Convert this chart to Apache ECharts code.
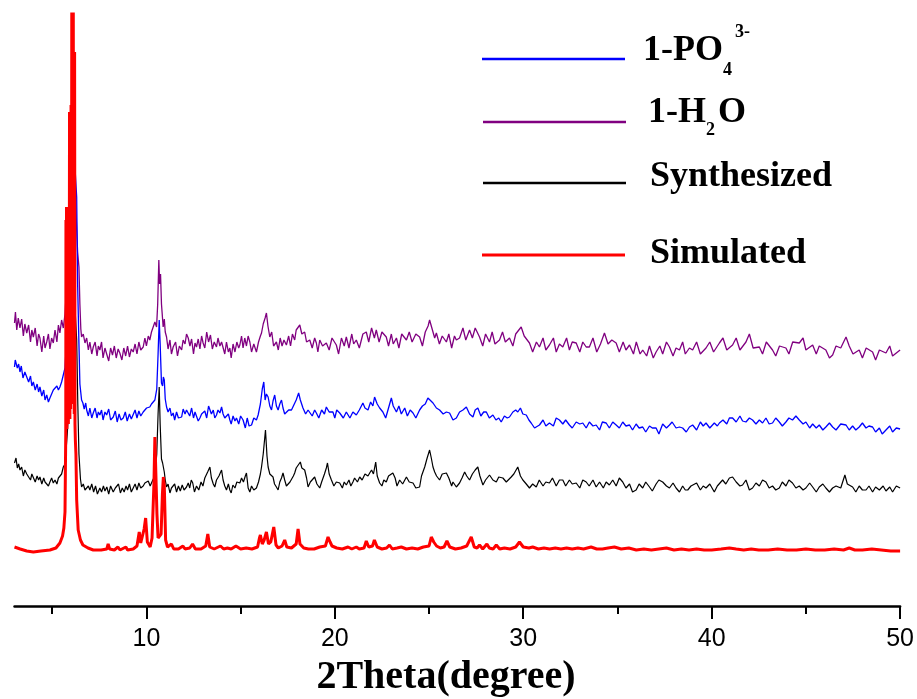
<!DOCTYPE html>
<html>
<head>
<meta charset="utf-8">
<script src="https://cdn.jsdelivr.net/npm/echarts@6/dist/echarts.min.js"></script>
<style>
html,body{margin:0;padding:0;background:#fff;}
#chart{width:917px;height:699px;}
</style>
</head>
<body>
<div id="chart"></div>
<script>
// x: 2Theta (degree), y: offset intensity (arbitrary units, stacked patterns)
const xLabelValues = [10, 20, 30, 40, 50];
const xMajorTickValues = [10, 20, 30, 40, 50];
const xMinorTickValues = [5, 15, 25, 35, 45];
const seriesNames = ['1-PO4', '1-H2O', 'Synthesized', 'Simulated'];
const axisTitle = '2Theta(degree)';

const h2o = [[3.0,281],[3.05,292],[3.12,274],[3.2,286],[3.29,276],[3.38,285],[3.47,268],[3.55,280],[3.65,271],[3.75,279],[3.85,262],[3.92,274],[4.0,267],[4.1,276],[4.2,258],[4.28,270],[4.35,266],[4.45,252],[4.55,268],[4.62,256],[4.71,262],[4.8,270],[4.88,255],[4.97,266],[5.06,261],[5.15,274],[5.25,262],[5.33,279],[5.41,271],[5.5,284],[5.59,276],[5.68,290],[5.8,330],[5.95,380],[6.06,410],[6.15,432],[6.21,420],[6.3,374],[6.35,352],[6.42,337],[6.47,300],[6.52,275],[6.56,267],[6.65,270],[6.74,261],[6.83,266],[6.92,254],[7.0,262],[7.1,250],[7.18,257],[7.28,262],[7.38,248],[7.45,258],[7.53,254],[7.62,262],[7.7,246],[7.8,256],[7.89,254],[8.0,243],[8.1,256],[8.2,249],[8.3,258],[8.4,246],[8.5,255],[8.59,251],[8.7,244],[8.8,256],[8.9,248],[9.0,258],[9.1,247],[9.2,255],[9.3,252],[9.4,260],[9.5,250],[9.6,262],[9.7,254],[9.83,257],[9.92,266],[10.0,258],[10.1,268],[10.18,264],[10.27,272],[10.35,270],[10.45,282],[10.54,277],[10.6,300],[10.66,344],[10.7,320],[10.75,330],[10.8,300],[10.89,277],[10.95,285],[11.0,272],[11.07,267],[11.15,255],[11.25,264],[11.33,250],[11.42,257],[11.55,262],[11.65,248],[11.75,258],[11.87,254],[11.95,264],[12.05,260],[12.13,270],[12.22,266],[12.31,258],[12.4,265],[12.5,250],[12.58,261],[12.66,257],[12.75,265],[12.84,255],[12.93,268],[13.01,261],[13.1,256],[13.2,272],[13.3,262],[13.4,269],[13.5,255],[13.6,262],[13.72,257],[13.8,266],[13.9,258],[13.99,262],[14.07,262],[14.16,250],[14.25,262],[14.35,252],[14.43,256],[14.5,246],[14.6,260],[14.7,252],[14.8,262],[14.9,256],[14.96,259],[15.05,268],[15.13,256],[15.22,266],[15.31,258],[15.4,268],[15.49,262],[15.58,252],[15.7,260],[15.84,252],[15.95,262],[16.05,268],[16.11,271],[16.2,280],[16.3,286],[16.37,291],[16.45,278],[16.55,267],[16.65,272],[16.75,258],[16.9,262],[17.0,254],[17.1,266],[17.2,258],[17.3,264],[17.43,259],[17.55,268],[17.65,258],[17.75,270],[17.87,264],[17.95,274],[18.05,272],[18.14,279],[18.25,270],[18.4,272],[18.5,262],[18.67,264],[18.8,256],[18.93,266],[19.02,261],[19.1,252],[19.2,264],[19.35,258],[19.55,261],[19.7,254],[19.85,266],[20.08,259],[20.2,250],[20.35,266],[20.5,258],[20.61,267],[20.75,256],[20.9,270],[21.0,260],[21.14,264],[21.3,256],[21.49,270],[21.67,272],[21.8,262],[21.95,276],[22.1,266],[22.2,274],[22.35,262],[22.5,272],[22.73,267],[22.85,258],[23.0,270],[23.1,260],[23.27,266],[23.4,256],[23.55,270],[23.8,264],[23.95,272],[24.1,262],[24.3,270],[24.5,267],[24.65,258],[24.8,272],[24.95,278],[25.03,284],[25.15,276],[25.3,266],[25.39,271],[25.55,260],[25.7,268],[25.92,262],[26.05,270],[26.2,256],[26.35,268],[26.45,264],[26.62,266],[26.8,276],[26.95,264],[27.15,274],[27.3,266],[27.45,276],[27.68,267],[27.85,258],[28.0,270],[28.21,262],[28.35,272],[28.5,260],[28.74,264],[28.9,272],[29.05,262],[29.27,266],[29.45,258],[29.6,270],[29.89,277],[30.05,268],[30.33,261],[30.5,252],[30.7,262],[30.86,257],[31.05,266],[31.2,254],[31.39,259],[31.6,266],[31.75,252],[31.92,260],[32.1,257],[32.3,266],[32.45,254],[32.6,262],[32.81,261],[33.0,252],[33.16,262],[33.34,257],[33.51,257],[33.7,266],[33.9,252],[34.1,260],[34.31,271],[34.5,260],[34.7,264],[34.93,261],[35.1,252],[35.3,262],[35.45,254],[35.64,259],[35.85,250],[36.0,262],[36.2,250],[36.34,254],[36.55,248],[36.7,258],[36.9,246],[37.05,252],[37.25,258],[37.4,250],[37.6,262],[37.76,257],[37.95,248],[38.11,256],[38.29,254],[38.46,262],[38.6,250],[38.82,256],[38.99,254],[39.2,262],[39.4,250],[39.7,256],[39.9,262],[40.1,252],[40.41,261],[40.6,266],[40.8,254],[41.11,259],[41.3,266],[41.5,254],[41.82,262],[42.0,270],[42.2,256],[42.53,257],[42.7,250],[42.9,262],[43.23,254],[43.4,248],[43.6,258],[43.94,256],[44.1,250],[44.3,262],[44.65,261],[44.85,266],[45.0,254],[45.36,259],[45.55,250],[45.71,258],[46.06,254],[46.25,246],[46.42,249],[46.6,258],[46.85,256],[47.13,267],[47.3,258],[47.5,250],[47.83,254],[48.0,246],[48.2,256],[48.54,252],[48.7,244],[48.9,254],[49.25,251],[49.45,258],[49.6,248],[50.0,254]];

const po4 = [[3.0,237],[3.04,244],[3.08,246],[3.15,236],[3.22,240],[3.29,232],[3.36,238],[3.45,226],[3.55,232],[3.65,227],[3.75,222],[3.85,228],[3.92,218],[4.0,222],[4.1,214],[4.2,220],[4.28,212],[4.35,217],[4.45,208],[4.55,214],[4.62,204],[4.71,209],[4.8,202],[4.88,206],[4.97,210],[5.06,214],[5.15,212],[5.25,218],[5.33,214],[5.41,217],[5.5,222],[5.59,224],[5.68,236],[5.78,270],[5.86,310],[5.94,360],[6.0,410],[6.06,440],[6.12,456],[6.2,440],[6.3,407],[6.35,320],[6.42,260],[6.47,220],[6.56,204],[6.63,201],[6.7,195],[6.78,201],[6.83,194],[6.92,188],[7.0,196],[7.1,186],[7.18,191],[7.28,196],[7.38,186],[7.45,192],[7.53,189],[7.62,194],[7.7,184],[7.8,192],[7.89,189],[8.0,195],[8.1,184],[8.24,187],[8.35,193],[8.45,182],[8.55,190],[8.65,184],[8.77,186],[8.88,192],[8.98,183],[9.1,190],[9.2,185],[9.3,187],[9.4,194],[9.5,186],[9.6,193],[9.7,188],[9.83,192],[9.92,190],[10.01,196],[10.1,194],[10.18,197],[10.27,200],[10.35,198],[10.45,204],[10.55,215],[10.62,250],[10.68,284],[10.73,260],[10.8,221],[10.86,218],[10.9,227],[10.95,224],[11.0,205],[11.07,197],[11.15,192],[11.25,196],[11.33,188],[11.42,191],[11.5,184],[11.6,192],[11.7,186],[11.87,187],[11.95,195],[12.05,190],[12.13,194],[12.22,194],[12.3,188],[12.4,196],[12.5,186],[12.58,192],[12.66,191],[12.75,183],[12.84,186],[12.93,190],[13.01,188],[13.1,193],[13.2,186],[13.3,198],[13.37,196],[13.45,190],[13.55,194],[13.63,186],[13.72,189],[13.8,194],[13.9,191],[13.99,197],[14.07,190],[14.16,186],[14.25,184],[14.35,190],[14.43,184],[14.5,180],[14.6,188],[14.7,183],[14.78,186],[14.9,180],[15.0,188],[15.13,184],[15.25,176],[15.35,186],[15.45,178],[15.58,179],[15.7,186],[15.84,184],[15.93,189],[16.05,200],[16.15,215],[16.23,222],[16.3,204],[16.37,210],[16.46,207],[16.55,198],[16.64,194],[16.72,203],[16.81,209],[16.9,198],[16.99,194],[17.08,200],[17.17,204],[17.25,196],[17.34,190],[17.43,189],[17.55,194],[17.7,194],[17.8,198],[17.95,204],[18.08,211],[18.17,204],[18.31,196],[18.45,190],[18.58,194],[18.67,192],[18.8,188],[18.93,194],[19.02,191],[19.15,186],[19.3,194],[19.45,190],[19.55,197],[19.7,192],[19.9,192],[20.0,186],[20.1,194],[20.26,191],[20.45,186],[20.61,192],[20.8,186],[20.96,192],[21.14,189],[21.3,194],[21.49,201],[21.6,196],[21.76,194],[21.9,202],[22.02,198],[22.11,207],[22.25,200],[22.38,196],[22.55,192],[22.7,186],[22.85,196],[23.0,206],[23.1,198],[23.27,192],[23.4,198],[23.53,190],[23.71,196],[23.85,188],[24.0,194],[24.15,191],[24.3,186],[24.5,194],[24.65,198],[24.8,200],[24.94,206],[25.05,204],[25.21,201],[25.39,196],[25.56,194],[25.75,190],[25.92,192],[26.09,191],[26.27,184],[26.45,186],[26.62,192],[26.8,194],[26.98,197],[27.15,190],[27.33,187],[27.45,194],[27.59,196],[27.75,188],[27.9,192],[28.04,192],[28.2,186],[28.39,189],[28.55,184],[28.7,186],[28.83,182],[29.0,188],[29.15,186],[29.27,187],[29.45,192],[29.6,194],[29.71,192],[29.85,196],[29.98,190],[30.16,189],[30.3,184],[30.42,181],[30.6,176],[30.86,179],[31.05,184],[31.2,178],[31.39,181],[31.6,178],[31.75,186],[31.92,184],[32.1,180],[32.25,184],[32.45,179],[32.6,176],[32.81,182],[33.0,180],[33.16,181],[33.34,176],[33.51,182],[33.7,178],[33.87,179],[34.05,174],[34.2,182],[34.4,181],[34.57,176],[34.75,182],[34.93,179],[35.1,176],[35.28,182],[35.45,178],[35.64,179],[35.8,174],[35.99,180],[36.15,176],[36.34,177],[36.5,172],[36.7,178],[36.85,176],[37.05,176],[37.2,170],[37.4,180],[37.6,176],[37.76,179],[37.9,182],[38.11,176],[38.29,177],[38.46,176],[38.65,172],[38.82,177],[38.99,179],[39.2,174],[39.4,182],[39.55,178],[39.7,181],[39.9,176],[40.14,181],[40.3,178],[40.41,181],[40.6,184],[40.8,180],[40.94,186],[41.11,186],[41.3,182],[41.5,188],[41.64,183],[41.82,182],[42.0,186],[42.17,184],[42.35,180],[42.53,184],[42.7,181],[42.88,186],[43.05,180],[43.23,181],[43.4,186],[43.59,182],[43.75,178],[43.94,182],[44.1,186],[44.29,184],[44.47,188],[44.65,184],[44.85,180],[45.0,182],[45.2,176],[45.36,180],[45.55,176],[45.71,179],[45.9,174],[46.06,177],[46.25,181],[46.42,177],[46.6,174],[46.85,180],[47.13,179],[47.3,174],[47.48,178],[47.65,174],[47.83,177],[48.0,181],[48.19,176],[48.35,178],[48.54,177],[48.7,172],[48.9,176],[49.05,170],[49.25,174],[49.45,178],[49.6,172],[49.8,176],[50.0,175]];

const synthesized = [[3.0,141],[3.08,146],[3.15,136],[3.22,140],[3.29,134],[3.38,137],[3.47,128],[3.55,134],[3.65,130],[3.75,132],[3.85,124],[3.92,130],[4.0,129],[4.1,122],[4.2,128],[4.28,124],[4.35,127],[4.45,120],[4.55,126],[4.62,122],[4.71,124],[4.8,118],[4.88,122],[4.97,126],[5.06,121],[5.15,124],[5.25,120],[5.33,126],[5.41,124],[5.5,130],[5.59,137],[5.68,140],[5.8,170],[5.92,210],[6.02,280],[6.1,330],[6.2,300],[6.3,264],[6.36,200],[6.42,150],[6.5,125],[6.56,117],[6.65,120],[6.74,114],[6.83,112],[6.92,118],[7.0,114],[7.1,120],[7.2,112],[7.3,118],[7.4,110],[7.53,116],[7.62,112],[7.72,118],[7.8,113],[7.9,117],[8.0,110],[8.1,118],[8.24,112],[8.35,116],[8.42,114],[8.52,120],[8.62,111],[8.72,116],[8.82,112],[8.92,118],[9.0,114],[9.1,120],[9.2,112],[9.3,116],[9.4,120],[9.5,114],[9.6,121],[9.7,116],[9.83,118],[9.92,121],[10.01,119],[10.1,123],[10.2,118],[10.34,124],[10.45,128],[10.55,150],[10.62,190],[10.68,217],[10.73,180],[10.8,145],[10.86,141],[10.9,137],[10.95,132],[11.0,124],[11.07,117],[11.15,120],[11.25,111],[11.33,116],[11.42,114],[11.5,120],[11.6,112],[11.7,118],[11.8,113],[11.9,119],[12.0,114],[12.13,117],[12.22,121],[12.3,116],[12.38,124],[12.46,121],[12.55,112],[12.66,118],[12.78,114],[12.9,122],[13.0,118],[13.1,126],[13.25,132],[13.37,137],[13.45,126],[13.55,120],[13.63,117],[13.72,124],[13.85,128],[13.99,134],[14.07,124],[14.16,118],[14.25,114],[14.35,120],[14.43,114],[14.5,111],[14.59,119],[14.7,116],[14.8,122],[14.96,121],[15.05,126],[15.15,122],[15.25,128],[15.31,131],[15.4,116],[15.49,112],[15.58,118],[15.7,114],[15.84,116],[15.95,122],[16.05,130],[16.11,137],[16.2,150],[16.32,174],[16.4,148],[16.46,137],[16.55,130],[16.64,132],[16.72,127],[16.8,120],[16.9,117],[16.99,114],[17.08,122],[17.17,126],[17.25,131],[17.34,124],[17.43,118],[17.52,116],[17.62,122],[17.7,124],[17.8,128],[17.87,131],[17.95,136],[18.05,138],[18.17,142],[18.25,136],[18.4,134],[18.5,126],[18.58,117],[18.7,122],[18.8,124],[18.93,127],[19.05,120],[19.2,116],[19.3,122],[19.45,130],[19.55,136],[19.61,141],[19.7,130],[19.82,124],[19.95,118],[20.08,122],[20.26,121],[20.4,116],[20.5,122],[20.61,119],[20.75,124],[20.85,118],[20.96,122],[21.05,126],[21.2,122],[21.32,127],[21.45,124],[21.6,130],[21.76,128],[21.85,131],[21.95,134],[22.05,130],[22.17,142],[22.25,128],[22.38,121],[22.5,118],[22.6,124],[22.73,122],[22.85,128],[22.95,126],[23.08,131],[23.2,126],[23.3,118],[23.44,124],[23.6,120],[23.8,127],[23.95,122],[24.05,124],[24.15,121],[24.3,116],[24.5,117],[24.6,128],[24.77,137],[24.9,146],[25.03,154],[25.12,146],[25.21,137],[25.3,132],[25.4,128],[25.56,124],[25.7,130],[25.92,131],[26.05,126],[26.2,118],[26.27,122],[26.45,117],[26.62,121],[26.75,126],[26.89,132],[27.0,128],[27.15,124],[27.3,130],[27.45,134],[27.59,137],[27.7,128],[27.86,119],[28.0,124],[28.21,129],[28.39,124],[28.57,122],[28.7,127],[28.92,126],[29.1,122],[29.36,127],[29.5,130],[29.71,137],[29.85,128],[29.98,124],[30.16,120],[30.33,116],[30.5,120],[30.69,117],[30.85,124],[31.05,118],[31.2,122],[31.39,121],[31.55,126],[31.75,118],[31.92,124],[32.1,124],[32.25,118],[32.45,124],[32.6,120],[32.81,121],[33.0,116],[33.16,124],[33.34,122],[33.5,118],[33.7,124],[33.87,117],[34.05,122],[34.25,116],[34.4,122],[34.57,119],[34.75,124],[34.93,118],[35.1,126],[35.28,122],[35.45,116],[35.64,120],[35.8,112],[35.99,114],[36.15,120],[36.34,116],[36.5,122],[36.7,117],[36.85,113],[37.05,120],[37.2,124],[37.4,122],[37.6,118],[37.76,116],[37.95,121],[38.11,116],[38.29,112],[38.46,118],[38.6,114],[38.73,114],[38.9,118],[38.99,117],[39.2,121],[39.4,114],[39.55,118],[39.7,116],[39.9,120],[40.14,112],[40.3,118],[40.58,124],[40.75,120],[40.94,126],[41.11,127],[41.3,122],[41.5,118],[41.64,119],[41.82,124],[42.0,114],[42.17,116],[42.35,121],[42.53,118],[42.7,124],[42.88,122],[43.05,116],[43.23,118],[43.4,114],[43.59,116],[43.75,122],[43.94,118],[44.1,124],[44.29,121],[44.47,116],[44.65,118],[44.85,114],[45.0,116],[45.2,121],[45.36,117],[45.55,112],[45.71,117],[45.9,120],[46.06,116],[46.25,112],[46.42,116],[46.6,118],[46.85,116],[47.07,129],[47.2,120],[47.48,117],[47.65,112],[47.83,118],[48.0,114],[48.19,114],[48.35,118],[48.54,112],[48.7,117],[48.9,114],[49.1,118],[49.25,113],[49.45,117],[49.6,112],[49.8,118],[50.0,116]];

const simulated = [[3.0,57],[3.3,55],[3.65,53],[4.0,52],[4.4,53],[4.88,54],[5.2,56],[5.41,61],[5.55,68],[5.62,76],[5.68,92],[5.70,130],[5.72,170],[5.73,384],[5.75,180],[5.76,397],[5.78,175],[5.80,390],[5.82,185],[5.84,397],[5.86,180],[5.88,392],[5.90,190],[5.92,492],[5.94,185],[5.96,490],[5.98,195],[6.00,499],[6.02,200],[6.04,600],[6.06,210],[6.08,600],[6.10,205],[6.12,600],[6.14,200],[6.15,552],[6.17,190],[6.19,552],[6.21,180],[6.23,164],[6.26,150],[6.30,104],[6.38,74],[6.5,64],[6.63,59],[6.9,56],[7.18,54],[7.6,54],[7.9,55],[7.97,60],[8.05,55],[8.3,54],[8.49,57],[8.6,54],[8.91,57],[9.0,54],[9.3,55],[9.5,58],[9.62,72],[9.7,61],[9.8,62],[9.88,75],[9.96,86],[10.05,62],[10.2,57],[10.3,66],[10.4,120],[10.45,167],[10.5,166],[10.56,90],[10.62,66],[10.7,64],[10.78,70],[10.85,110],[10.9,127],[10.95,118],[11.02,64],[11.12,57],[11.22,56],[11.33,60],[11.45,55],[11.7,55],[11.94,58],[12.05,55],[12.3,56],[12.45,60],[12.6,55],[12.9,55],[13.15,58],[13.26,70],[13.36,57],[13.6,55],[13.93,58],[14.1,55],[14.3,56],[14.5,55],[14.75,58],[15.0,55],[15.3,56],[15.6,55],[15.9,57],[16.0,66],[16.05,69],[16.15,60],[16.25,64],[16.37,72],[16.48,60],[16.6,62],[16.76,77],[16.88,59],[17.0,56],[17.2,58],[17.34,64],[17.45,57],[17.7,56],[17.95,60],[18.05,75],[18.15,60],[18.35,56],[18.6,55],[18.9,55],[19.2,57],[19.5,58],[19.64,67],[19.75,62],[19.85,58],[20.1,56],[20.4,55],[20.7,57],[20.9,55],[21.14,57],[21.3,55],[21.55,56],[21.67,63],[21.8,57],[22.0,58],[22.1,64],[22.25,57],[22.5,55],[22.75,56],[22.9,59],[23.05,55],[23.3,56],[23.53,57],[23.8,55],[24.1,56],[24.4,55],[24.7,57],[25.0,58],[25.12,67],[25.25,62],[25.4,58],[25.6,56],[25.8,57],[25.95,63],[26.1,57],[26.4,55],[26.7,56],[27.0,58],[27.24,67],[27.4,57],[27.55,56],[27.68,59],[27.85,55],[28.07,60],[28.2,56],[28.4,55],[28.57,59],[28.75,55],[29.0,56],[29.3,55],[29.6,57],[29.8,62],[30.0,57],[30.3,56],[30.5,57],[30.8,55],[31.1,56],[31.4,55],[31.7,56],[32.0,55],[32.3,56],[32.6,55],[32.9,56],[33.2,55],[33.6,57],[33.9,55],[34.2,55],[34.5,56],[34.84,57],[35.2,55],[35.6,56],[36.0,54],[36.4,55],[36.8,54],[37.2,55],[37.6,56],[38.0,54],[38.4,55],[38.8,54],[39.2,55],[39.6,54],[40.0,54],[40.5,55],[40.94,56],[41.3,55],[41.7,54],[42.1,55],[42.5,54],[43.0,54],[43.5,55],[44.0,54],[44.5,54],[45.0,55],[45.5,54],[46.0,54],[46.5,55],[47.0,54],[47.3,56],[47.6,54],[48.0,54],[48.5,55],[49.0,54],[49.5,53],[50.0,53]];

const chart = echarts.init(document.getElementById('chart'), null, {renderer: 'canvas'});
const serif = '"Liberation Serif", "Times New Roman", serif';

function lineSeries(name, data, color, width) {
  return {
    name: name, type: 'line', data: data, showSymbol: false, symbol: 'none',
    lineStyle: {color: color, width: width}, itemStyle: {color: color},
    clip: true, animation: false, z: 2
  };
}

const option = {
  animation: false,
  backgroundColor: '#ffffff',
  grid: {left: 14.5, right: 16, top: 14, bottom: 93, containLabel: false},
  xAxis: [{
    type: 'value', min: 3, max: 50, position: 'bottom',
    axisLine: {show: true, onZero: false, lineStyle: {color: '#000', width: 2.5}},
    axisTick: {show: true, inside: false, length: 13, customValues: xMajorTickValues, lineStyle: {color: '#000', width: 2}},
    axisLabel: {show: true, customValues: xLabelValues, margin: 21, color: '#000', fontSize: 25, fontFamily: '"Liberation Sans", Arial, sans-serif'},
    splitLine: {show: false}
  }, {
    type: 'value', min: 3, max: 50, position: 'bottom', gridIndex: 0,
    axisLine: {show: false, onZero: false},
    axisTick: {show: true, inside: false, length: 8, customValues: xMinorTickValues, lineStyle: {color: '#000', width: 2}},
    axisLabel: {show: false},
    splitLine: {show: false}
  }],
  yAxis: {
    type: 'value', min: -2, max: 590, show: false,
    splitLine: {show: false}
  },
  series: [
    lineSeries(seriesNames[1], h2o, '#800080', 1.3),
    lineSeries(seriesNames[0], po4, '#0000ff', 1.3),
    lineSeries(seriesNames[2], synthesized, '#000000', 1.2),
    lineSeries(seriesNames[3], simulated, '#ff0000', 3)
  ],
  graphic: [
    // legend samples
    {type: 'line', shape: {x1: 482, y1: 59, x2: 625, y2: 59}, style: {stroke: '#0000ff', lineWidth: 2.5}},
    {type: 'line', shape: {x1: 483, y1: 122, x2: 626, y2: 122}, style: {stroke: '#800080', lineWidth: 2.5}},
    {type: 'line', shape: {x1: 483, y1: 183, x2: 626, y2: 183}, style: {stroke: '#000000', lineWidth: 2.5}},
    {type: 'line', shape: {x1: 482, y1: 255, x2: 625, y2: 255}, style: {stroke: '#ff0000', lineWidth: 3}},
    // legend texts
    {type: 'text', x: 643, y: 51, style: {text: '1-PO', fill: '#000', font: 'bold 36px ' + serif, verticalAlign: 'middle', align: 'left'}},
    {type: 'text', x: 723, y: 70, style: {text: '4', fill: '#000', font: 'bold 18px ' + serif, verticalAlign: 'middle', align: 'left'}},
    {type: 'text', x: 735, y: 32, style: {text: '3-', fill: '#000', font: 'bold 18px ' + serif, verticalAlign: 'middle', align: 'left'}},
    {type: 'text', x: 648, y: 113, style: {text: '1-H', fill: '#000', font: 'bold 36px ' + serif, verticalAlign: 'middle', align: 'left'}},
    {type: 'text', x: 706, y: 130, style: {text: '2', fill: '#000', font: 'bold 18px ' + serif, verticalAlign: 'middle', align: 'left'}},
    {type: 'text', x: 718, y: 113, style: {text: 'O', fill: '#000', font: 'bold 36px ' + serif, verticalAlign: 'middle', align: 'left'}},
    {type: 'text', x: 650, y: 177, style: {text: seriesNames[2], fill: '#000', font: 'bold 36px ' + serif, verticalAlign: 'middle', align: 'left'}},
    {type: 'text', x: 650, y: 254, style: {text: seriesNames[3], fill: '#000', font: 'bold 36px ' + serif, verticalAlign: 'middle', align: 'left'}},
    // axis title
    {type: 'text', x: 446, y: 678, style: {text: axisTitle, fill: '#000', font: 'bold 40px ' + serif, verticalAlign: 'middle', align: 'center'}}
  ]
};
chart.setOption(option);
</script>
</body>
</html>
